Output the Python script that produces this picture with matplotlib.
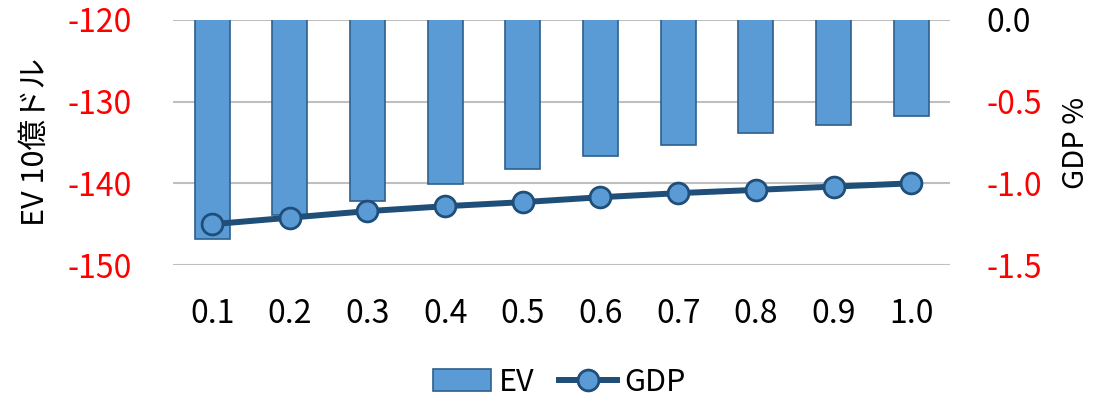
import numpy as np
import matplotlib
matplotlib.use("Agg")
import matplotlib.pyplot as plt

plt.rcParams["font.family"] = ["Noto Sans CJK JP", "DejaVu Sans"]
plt.rcParams["axes.unicode_minus"] = False

labels = ["0.1", "0.2", "0.3", "0.4", "0.5", "0.6", "0.7", "0.8", "0.9", "1.0"]
ev = [-146.8, -143.9, -142.2, -140.1, -138.2, -136.6, -135.3, -133.9, -132.8, -131.7]
gdp = [-1.25, -1.21, -1.17, -1.14, -1.115, -1.085, -1.06, -1.04, -1.02, -1.0]

fig = plt.figure(figsize=(10.97, 3.98), dpi=100)
ax = fig.add_axes([0.158, 0.334, 0.708, 0.616])
x = np.arange(len(labels))

ax.bar(x, ev, width=0.45, color="#5B9BD5", edgecolor="#2E5F8C", linewidth=1.2,
       label="EV", zorder=2)
ax.set_ylim(-150, -120)
ax.set_yticks([-150, -140, -130, -120])
ax.set_xlim(-0.5, len(labels) - 0.5)
ax.set_xticks(x)
ax.set_xticklabels(labels)
ax.grid(axis="y", color="#BFBFBF", linewidth=1.5, zorder=0)
ax.set_axisbelow(True)
for s in ax.spines.values():
    s.set_visible(False)
ax.tick_params(axis="both", length=0, labelsize=23)
ax.tick_params(axis="y", colors="red", pad=30)
ax.tick_params(axis="x", pad=24)
ax.set_ylabel("EV 10億ドル", fontsize=22, labelpad=12)

ax2 = ax.twinx()
ax2.plot(x, gdp, color="#1F4E79", linewidth=4.3, marker="o", markersize=15,
         markerfacecolor="#5B9BD5", markeredgecolor="#1F4E79", markeredgewidth=2,
         label="GDP", zorder=3)
ax2.set_ylim(-1.5, 0)
ax2.set_yticks([-1.5, -1.0, -0.5, 0.0])
ax2.set_yticklabels(["-1.5", "-1.0", "-0.5", "0.0"])
for s in ax2.spines.values():
    s.set_visible(False)
ax2.tick_params(axis="y", length=0, labelsize=23, pad=26)
for t in ax2.get_yticklabels():
    t.set_color("black" if t.get_text() == "0.0" else "red")
ax2.set_ylabel("GDP %", fontsize=21, labelpad=14)

h1, l1 = ax.get_legend_handles_labels()
h2, l2 = ax2.get_legend_handles_labels()
fig.legend(h1 + h2, l1 + l2, loc="center", bbox_to_anchor=(0.51, 0.04), ncol=2,
           frameon=False, fontsize=22, handlelength=1.9, columnspacing=0.8,
           handletextpad=0.25)

fig.savefig("out.png", dpi=100)
